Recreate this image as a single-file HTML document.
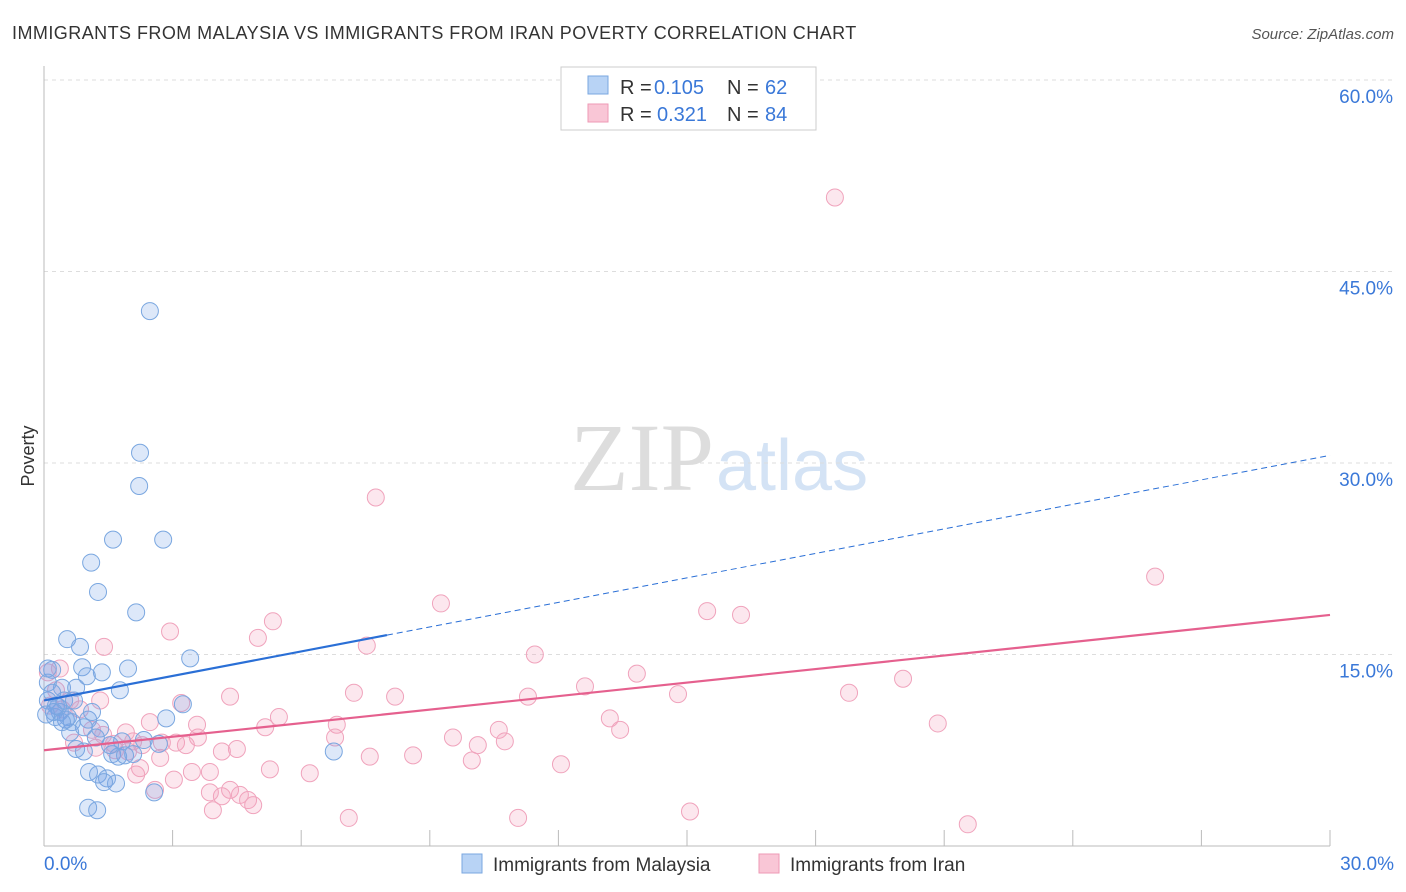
<!DOCTYPE html>
<html><head><meta charset="utf-8"><style>
body{margin:0;background:#fff;font-family:"Liberation Sans",sans-serif;}
svg{display:block}
</style></head><body>
<svg id="c" width="1406" height="892" xmlns="http://www.w3.org/2000/svg">
<text x="12" y="39" font-size="18" fill="#333" letter-spacing="0.45">IMMIGRANTS FROM MALAYSIA VS IMMIGRANTS FROM IRAN POVERTY CORRELATION CHART</text>
<text x="1394" y="39" font-size="15" fill="#555" font-style="italic" text-anchor="end">Source: ZipAtlas.com</text>
<text x="714" y="490" font-size="96" fill="#ddd" text-anchor="end" font-family="Liberation Serif,serif">ZIP</text>
<text x="716" y="490" font-size="72" fill="#d4e3f5">atlas</text>
<text transform="translate(34,456) rotate(-90)" font-size="18" fill="#333" text-anchor="middle">Poverty</text>
<g id="grid"></g><g id="pts"></g><g id="lines"></g>
<g>
<rect x="561" y="67" width="255" height="63" fill="#fff" stroke="#ccc"/>
<rect x="588" y="76" width="20" height="18" fill="#b8d3f5" stroke="#7aa7e0"/>
<rect x="588" y="104" width="20" height="18" fill="#f9c6d6" stroke="#ee9ab5"/>
<text x="620" y="94" font-size="20" fill="#333">R =</text>
<text x="654" y="94" font-size="20" fill="#3a78d8">0.105</text>
<text x="727" y="94" font-size="20" fill="#333">N =</text>
<text x="765" y="94" font-size="20" fill="#3a78d8">62</text>
<text x="620" y="121" font-size="20" fill="#333">R =</text>
<text x="657" y="121" font-size="20" fill="#3a78d8">0.321</text>
<text x="727" y="121" font-size="20" fill="#333">N =</text>
<text x="765" y="121" font-size="20" fill="#3a78d8">84</text>
</g>
<g>
<rect x="462" y="854" width="20" height="19" fill="#b8d3f5" stroke="#7aa7e0"/>
<text x="493" y="871" font-size="19" fill="#333">Immigrants from Malaysia</text>
<rect x="759" y="854" width="20" height="19" fill="#f9c6d6" stroke="#ee9ab5"/>
<text x="790" y="871" font-size="19" fill="#333">Immigrants from Iran</text>
</g>
</svg>
<script>
const yTicks=[15,30,45,60];
const xTickLabels=["0.0%","30.0%"];
const blueX=[2.47,2.24,2.22,1.61,2.78,1.10,1.26,2.15,0.54,0.84,3.41,1.96,0.89,1.35,1.00,0.19,1.77,0.42,0.09,0.75,3.24,2.85,0.33,0.56,0.26,0.65,1.03,1.31,0.61,0.75,0.93,1.21,1.82,2.33,2.68,2.08,1.59,1.73,6.76,1.05,1.26,1.47,1.68,1.40,2.57,1.03,1.24,0.09,0.19,0.37,0.51,0.93,1.54,1.89,0.09,0.28,0.47,0.23,1.12,0.70,0.05,0.42];
const blueY=[41.9,30.8,28.2,24.0,24.0,22.2,19.9,18.3,16.2,15.6,14.7,13.9,14.0,13.6,13.3,13.8,12.2,12.4,11.4,12.4,11.1,10.0,10.9,10.1,10.1,9.7,9.9,9.2,8.9,7.6,7.4,8.5,8.2,8.3,8.0,7.2,7.2,7.0,7.4,5.8,5.6,5.3,4.9,5.0,4.2,3.0,2.8,12.8,12.0,10.5,9.9,9.3,7.9,7.1,13.9,11.0,11.4,10.5,10.5,11.4,10.3,9.7];
const pinkX=[18.45,7.74,25.92,9.26,15.47,16.26,5.34,2.94,4.99,1.40,7.53,11.45,13.83,12.62,20.04,18.78,14.79,11.29,7.23,8.19,4.34,3.20,5.48,13.20,20.85,5.16,6.83,3.57,10.61,2.47,1.91,13.44,6.79,9.54,3.59,10.75,3.08,10.12,2.75,2.08,4.50,4.15,7.60,8.61,1.21,1.66,2.71,9.98,12.06,5.27,6.20,3.45,3.87,2.15,3.03,4.34,4.57,4.15,4.76,4.88,3.94,2.59,15.07,7.11,11.06,21.55,0.37,0.09,0.42,0.84,0.70,1.12,1.38,1.63,2.29,3.31,2.24,1.31,0.28,0.61,0.14,1.96,3.87];
const pinkY=[50.8,27.3,21.1,19.0,18.4,18.1,17.6,16.8,16.3,15.6,15.7,15.0,13.5,12.5,13.1,12.0,11.9,11.7,12.0,11.7,11.7,11.2,10.1,10.0,9.6,9.3,9.5,9.5,9.1,9.7,8.9,9.1,8.5,8.5,8.5,8.2,8.1,7.9,8.1,8.2,7.6,7.4,7.0,7.1,7.7,7.5,6.9,6.7,6.4,6.0,5.7,5.8,5.8,5.6,5.2,4.4,4.0,3.9,3.6,3.2,2.8,4.4,2.7,2.2,2.2,1.7,13.9,13.6,10.7,10.7,8.1,9.1,8.7,8.0,7.9,7.9,6.1,11.4,12.2,11.4,11.0,7.4,4.2];
const blueTrend=[11.4,30.6]; const blueSolidEnd=8.0;
const pinkTrend=[7.5,18.1];
const NS='http://www.w3.org/2000/svg';
const sx=v=>44+v/30*1286, sy=v=>846-v/15*191.5;
function mk(t,a,p){const e=document.createElementNS(NS,t);for(const k in a)e.setAttribute(k,a[k]);p.appendChild(e);return e;}
const g=document.getElementById('grid');
yTicks.forEach(t=>{
 const l=mk('line',{x1:44,x2:1394,y1:sy(t),y2:sy(t),stroke:'#ddd','stroke-dasharray':'4,4'},g);
 
 
 const tx=mk('text',{x:1393,y:sy(t)+23,'font-size':19,fill:'#3a78d8','text-anchor':'end'},g);tx.textContent=t.toFixed(1)+'%';
 
 
});
const ax=mk('line',{x1:44,x2:1330,y1:846,y2:846,stroke:'#bbb'},g);


const ay=mk('line',{x1:44,x2:44,y1:66,y2:846,stroke:'#bbb'},g);


for(let i=1;i<=10;i++){const t=mk('line',{x1:sx(i*3),x2:sx(i*3),y1:830,y2:846,stroke:'#bbb'},g);
 
 }
xTickLabels.forEach((s,i)=>{const t=mk('text',{x:i?1394:44,y:870,'font-size':19,fill:'#3a78d8','text-anchor':i?'end':'start'},g);t.textContent=s;
 
 });
const P=document.getElementById('pts');
pinkX.forEach((x,i)=>{const c=mk('circle',{cx:sx(x),cy:sy(pinkY[i]),r:8.5,fill:'rgba(244,160,188,0.25)',stroke:'#f0a3bc','stroke-width':1},P);
 
 });
blueX.forEach((x,i)=>{const c=mk('circle',{cx:sx(x),cy:sy(blueY[i]),r:8.5,fill:'rgba(120,165,230,0.25)',stroke:'#7aa7e0','stroke-width':1},P);
 
 });
const L=document.getElementById('lines');
const by=x=>blueTrend[0]+(blueTrend[1]-blueTrend[0])*x/30;
const l1=mk('line',{x1:sx(0),y1:sy(by(0)),x2:sx(blueSolidEnd),y2:sy(by(blueSolidEnd)),stroke:'#2a6fd6','stroke-width':2.2},L);


const l2=mk('line',{x1:sx(blueSolidEnd),y1:sy(by(blueSolidEnd)),x2:sx(30),y2:sy(by(30)),stroke:'#2a6fd6','stroke-width':1,'stroke-dasharray':'6,4'},L);


const l3=mk('line',{x1:sx(0),y1:sy(pinkTrend[0]),x2:sx(30),y2:sy(pinkTrend[1]),stroke:'#e5608e','stroke-width':2.2},L);


</script>
</body></html>
